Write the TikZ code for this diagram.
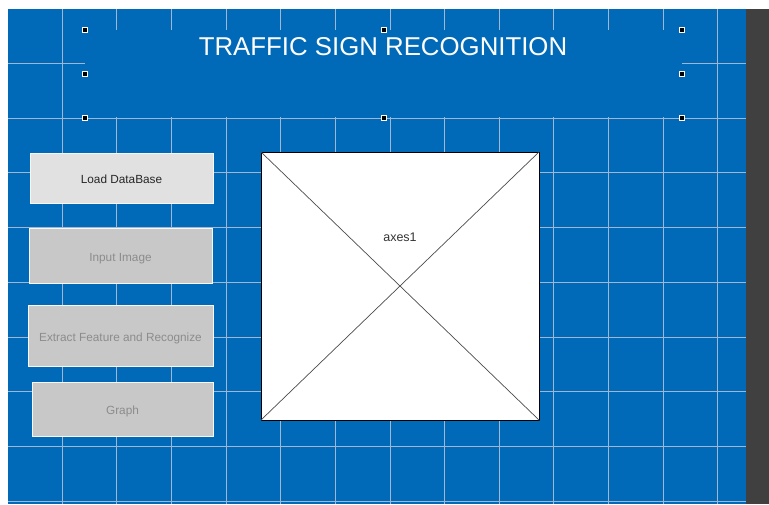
\documentclass[tikz,border=0pt]{standalone}
\usepackage{fontspec}
\setmainfont{Liberation Sans}
\usepackage{tikz}
\usetikzlibrary{positioning}
\definecolor{guiblue}{RGB}{0,106,184}
\definecolor{gridcol}{RGB}{158,184,212}
\definecolor{sidebar}{RGB}{64,64,64}
\definecolor{btnon}{RGB}{225,225,225}
\definecolor{btnoff}{RGB}{200,200,200}
\definecolor{txtoff}{RGB}{140,140,140}
\tikzset{btn/.style={rectangle, draw=white!85!btnoff, line width=0.8pt, fill=btnoff, text=txtoff,
    font=\fontsize{11.8}{13}\selectfont, text height=11.5pt, text depth=0pt, inner sep=0pt}}
\tikzset{handle/.style={rectangle, fill=black, draw=white, line width=0.7pt, minimum size=5pt, inner sep=0pt}}
\tikzset{gridline/.style={gridcol, line width=0.8pt}}

\begin{document}
\begin{tikzpicture}[x=1pt,y=-1pt]
      \useasboundingbox (0,0) rectangle (769,504);
      \fill [white] (0,0) rectangle (769,504);
      \fill [guiblue] (8,9) rectangle (746,504);
      \fill [sidebar] (746,9) rectangle (769,504);

      % layout grid
      \foreach \k in {0,...,12}
        \draw [gridline] (62+54.65*\k, 9) -- (62+54.65*\k, 504);
      \foreach \k in {0,...,8}
        \draw [gridline] (8, 63.2+54.75*\k) -- (746, 63.2+54.75*\k);

      \node [rectangle, fill=guiblue, minimum width=597pt, minimum height=87pt, inner sep=0pt] (title) at (383.5, 73.5) {};
      \node [anchor=base, text=white, font=\fontsize{25.8}{30}\selectfont] (titletext) at (383, 55.5) {TRAFFIC SIGN RECOGNITION};
      \draw [gridline] (8, 118) -- (746, 118);
      \foreach \a in {north west, north, north east, west, east, south west, south, south east}
        \node [handle] at ([yshift=-0.5pt]title.\a) {};

      \node [btn, fill=btnon, text=black!85, minimum width=183pt, minimum height=50pt] (load) at (121.5, 178) {Load DataBase};
      \node [btn, minimum width=183pt, minimum height=55pt] (input) at (120.5, 255.5) {Input Image};
      \node [btn, minimum width=185pt, minimum height=61pt] (extract) at (120.5, 335.5) {Extract Feature and Recognize};
      \node [btn, minimum width=181pt, minimum height=54pt] (graph) at (122.5, 409) {Graph};

      \node [rectangle, draw=black, fill=white, line width=0.8pt, minimum width=278pt, minimum height=268pt, inner sep=0pt] (axes) at (400, 286) {};
      \draw [black!70, line width=0.7pt] (axes.north west) -- (axes.south east);
      \draw [black!70, line width=0.7pt] (axes.north east) -- (axes.south west);
      \node [text=black!80, font=\fontsize{12.5}{14}\selectfont] (axeslabel) at (400, 237) {axes1};
    \end{tikzpicture}
\end{document}
